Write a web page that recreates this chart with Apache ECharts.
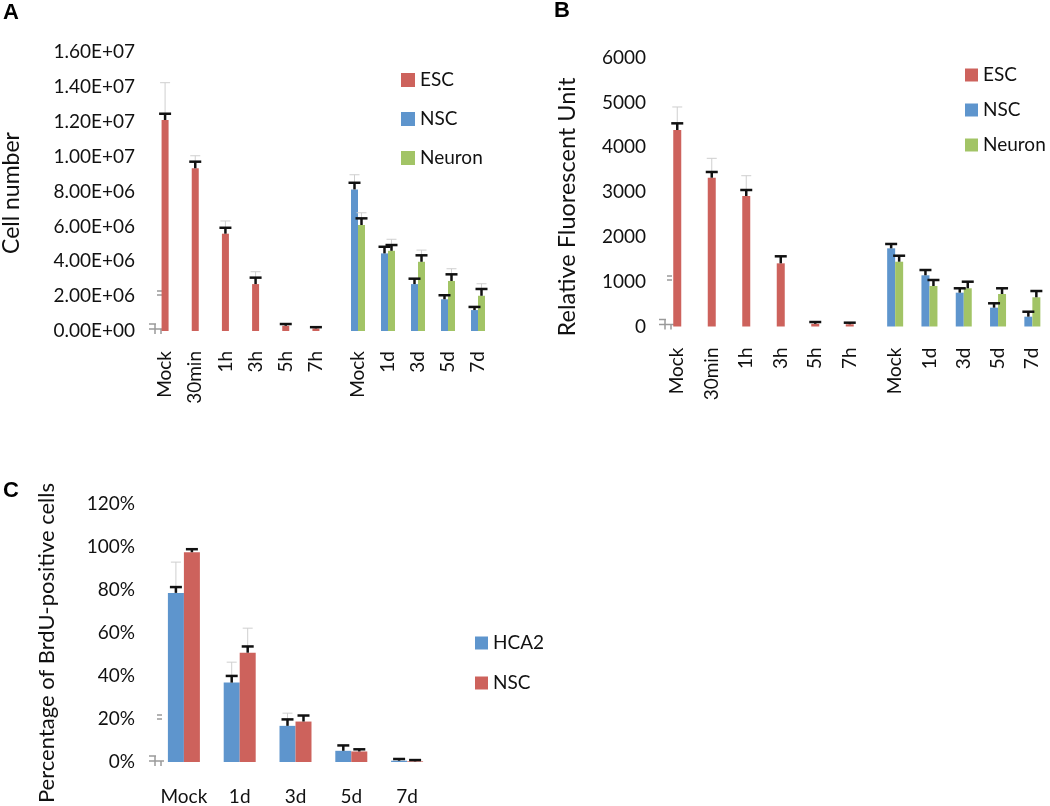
<!DOCTYPE html>
<html><head><meta charset="utf-8">
<script src="https://cdn.jsdelivr.net/npm/echarts@6/dist/echarts.min.js"></script>
<style>html,body{margin:0;padding:0;background:#fff}#c{width:1050px;height:806px}</style>
</head><body><div id="c"></div>
<script>
// ---------- DATA ----------
// Panel A (Cell number)
const catsA1 = ['Mock','30min','1h','3h','5h','7h'];
const catsA2 = ['Mock','1d','3d','5d','7d'];
const aESC       = [12.1e6, 9.33e6, 5.58e6, 2.69e6, 0.30e6, 0.15e6];
const aESCErr    = [0.36e6, 0.38e6, 0.34e6, 0.37e6, 0.10e6, 0.07e6];
const aESCErr2   = [2.14e6, 0.72e6, 0.73e6, 0.71e6, null, null];
const aNSC       = [8.12e6, 4.45e6, 2.69e6, 1.82e6, 1.20e6];
const aNSCErr    = [0.38e6, 0.38e6, 0.31e6, 0.23e6, 0.18e6];
const aNSCErr2   = [0.84e6, null, null, null, null];
const aNeuron    = [6.08e6, 4.60e6, 3.97e6, 2.87e6, 2.02e6];
const aNeuronErr = [0.38e6, 0.33e6, 0.37e6, 0.38e6, 0.39e6];
const aNeuronErr2= [0.70e6, 0.66e6, 0.67e6, 0.70e6, 0.69e6];
// Panel B (Relative Fluorescent Unit)
const catsB1 = ['Mock','30min','1h','3h','5h','7h'];
const catsB2 = ['Mock','1d','3d','5d','7d'];
const bESC       = [4386, 3321, 2913, 1410, 60, 50];
const bESCErr    = [149, 128, 134, 157, 40, 35];
const bESCErr2   = [514, 433, 453, null, null, null];
const bNSC       = [1745, 1143, 755, 420, 219];
const bNSCErr    = [97, 118, 98, 98, 111];
const bNeuron    = [1446, 904, 853, 725, 652];
const bNeuronErr = [134, 134, 147, 128, 140];
// Panel C (Percentage of BrdU-positive cells)
const catsC = ['Mock','1d','3d','5d','7d'];
const cHCA2      = [78.6, 36.9, 16.8, 5.2, 0.6];
const cHCA2Err   = [2.7, 3.1, 3.0, 2.5, 0.8];
const cHCA2Err2  = [14.3, 9.5, 5.9, null, null];
const cNSC       = [97.5, 50.8, 18.8, 4.9, 0.3];
const cNSCErr    = [1.4, 2.9, 2.8, 1.0, 0.6];
const cNSCErr2   = [null, 11.4, null, null, null];
// tick settings
const yA = {min: 0, max: 1.6e7, interval: 2e6};
const yB = {min: 0, max: 6000, interval: 1000};
const yC = {min: 0, max: 120, interval: 20};

// ---------- STYLE ----------
const RED = '#CD625C', BLUE = '#5E95CD', GREEN = '#A2C466';
const FONT = 'Lato';
const TXT = '#111';
const TICK = 19;

function sci(v){
  if (v === 0) return '0.00E+00';
  const e = Math.floor(Math.log10(v) + 1e-9);
  const m = v / Math.pow(10, e);
  return m.toFixed(2) + 'E+' + String(e).padStart(2, '0');
}

function errSeries(xIdx, vals, errs, offset, color, lw, capW, z){
  const data = [];
  vals.forEach((v, i) => { if (errs[i] != null && v != null) data.push([i, v, errs[i]]); });
  return {
    type: 'custom', xAxisIndex: xIdx, yAxisIndex: xIdx, z: z, silent: true,
    data: data,
    renderItem: function(params, api){
      const i = api.value(0), v = api.value(1), e = api.value(2);
      const p0 = api.coord([i, v]);
      const p1 = api.coord([i, v + e]);
      const x = p0[0] + offset;
      return {
        type: 'group',
        children: [
          {type: 'line', shape: {x1: x, y1: p0[1], x2: x, y2: p1[1]}, style: {stroke: color, lineWidth: lw}},
          {type: 'line', shape: {x1: x - capW / 2, y1: p1[1], x2: x + capW / 2, y2: p1[1]}, style: {stroke: color, lineWidth: lw}}
        ]
      };
    }
  };
}

const BLACK = '#111', GRAY = '#cfcfcf', MARK = '#9a9a9a';

// small gray axis-break marks near the y axes (decoration)
function breakMarks(xs, yz, xe, ye){
  const L = (x1, y1, x2, y2) => ({type: 'line', shape: {x1, y1, x2, y2}, style: {stroke: MARK, lineWidth: 1.5}, silent: true});
  return {
    type: 'group', silent: true,
    children: [
      L(xs, yz - 7, xs + 7, yz - 7), L(xs + 6, yz - 7, xs + 6, yz + 3),
      L(xs, yz - 2, xs + 15, yz - 2), L(xs + 12, yz - 2, xs + 12, yz + 3),
      L(xe, ye - 2, xe + 5, ye - 2), L(xe, ye + 2, xe + 5, ye + 2)
    ]
  };
}

function catAxis(gi, cats, rotate, margin){
  return {
    type: 'category', gridIndex: gi, data: cats,
    axisLine: {show: false}, axisTick: {show: false},
    axisLabel: {rotate: rotate, margin: margin, fontFamily: FONT, fontSize: TICK, color: TXT, interval: 0}
  };
}
function valAxis(gi, cfg, show, fmt, margin){
  return {
    type: 'value', gridIndex: gi, min: cfg.min, max: cfg.max, interval: cfg.interval,
    show: show, splitLine: {show: false}, axisLine: {show: false}, axisTick: {show: false},
    axisLabel: {formatter: fmt, margin: margin, fontFamily: FONT, fontSize: TICK, color: TXT}
  };
}

const wA = 7, wB = 8, wC = 16;
const legendText = {fontFamily: FONT, fontSize: 19, color: TXT, lineHeight: 20};

const option = {
  backgroundColor: '#fff',
  animation: false,
  title: [
    {text: 'A', left: 3, top: 2, padding: 0, textStyle: {fontFamily: 'Liberation Sans', fontWeight: 'bold', fontSize: 22, color: '#000'}},
    {text: 'B', left: 554, top: 0, padding: 0, textStyle: {fontFamily: 'Liberation Sans', fontWeight: 'bold', fontSize: 22, color: '#000'}},
    {text: 'C', left: 3, top: 480, padding: 0, textStyle: {fontFamily: 'Liberation Sans', fontWeight: 'bold', fontSize: 22, color: '#000'}}
  ],
  legend: [
    {orient: 'vertical', left: 396, top: 65, itemWidth: 14, itemHeight: 14, itemGap: 19, icon: 'rect',
     data: [{name: 'ESC', itemStyle: {color: RED}}, {name: 'NSC', itemStyle: {color: BLUE}}, {name: 'Neuron', itemStyle: {color: GREEN}}],
     textStyle: legendText, selectedMode: false},
    {orient: 'vertical', left: 960, top: 60, itemWidth: 13, itemHeight: 13, itemGap: 15, icon: 'rect',
     data: [{name: 'ESC', itemStyle: {color: RED}}, {name: 'NSC', itemStyle: {color: BLUE}}, {name: 'Neuron', itemStyle: {color: GREEN}}],
     textStyle: legendText, selectedMode: false},
    {orient: 'vertical', left: 470, top: 628, itemWidth: 13, itemHeight: 13, itemGap: 20, icon: 'rect',
     data: [{name: 'HCA2', itemStyle: {color: BLUE}}, {name: 'NSC', itemStyle: {color: RED}}],
     textStyle: legendText, selectedMode: false}
  ],
  graphic: [
    {type: 'text', x: 12, y: 193, rotation: Math.PI / 2, style: {text: 'Cell number', fontFamily: FONT, fontSize: 23, fill: TXT, align: 'center', verticalAlign: 'middle'}},
    {type: 'text', x: 567, y: 207, rotation: Math.PI / 2, style: {text: 'Relative Fluorescent Unit', fontFamily: FONT, fontSize: 23.5, fill: TXT, align: 'center', verticalAlign: 'middle'}},
    {type: 'text', x: 47, y: 643, rotation: Math.PI / 2, style: {text: 'Percentage of BrdU-positive cells', fontFamily: FONT, fontSize: 22, fill: TXT, align: 'center', verticalAlign: 'middle'}},
    breakMarks(149, 331, 157, 293),
    breakMarks(659, 326.5, 667, 278),
    breakMarks(149, 763, 157, 717)
  ],
  grid: [
    {left: 150, top: 52, width: 181, height: 279},
    {left: 343, top: 52, width: 150, height: 279},
    {left: 660, top: 57.7, width: 207, height: 268.8},
    {left: 878, top: 57.7, width: 171.5, height: 268.8},
    {left: 156, top: 503.8, width: 279, height: 259.2}
  ],
  xAxis: [
    catAxis(0, catsA1, 90, 20),
    catAxis(1, catsA2, 90, 20),
    catAxis(2, catsB1, 90, 21),
    catAxis(3, catsB2, 90, 21),
    catAxis(4, catsC, 0, 25)
  ],
  yAxis: [
    valAxis(0, yA, true, sci, 15),
    valAxis(1, yA, false, sci, 15),
    valAxis(2, yB, true, v => String(v), 14),
    valAxis(3, yB, false, v => String(v), 14),
    valAxis(4, yC, true, v => v + '%', 21)
  ],
  series: [
    // Panel A
    {name: 'ESC', type: 'bar', xAxisIndex: 0, yAxisIndex: 0, data: aESC, barWidth: wA, itemStyle: {color: RED}},
    {name: 'NSC', type: 'bar', xAxisIndex: 1, yAxisIndex: 1, data: aNSC, barWidth: wA, barGap: '0%', itemStyle: {color: BLUE}},
    {name: 'Neuron', type: 'bar', xAxisIndex: 1, yAxisIndex: 1, data: aNeuron, barWidth: wA, barGap: '0%', itemStyle: {color: GREEN}},
    errSeries(0, aESC, aESCErr2, 0, GRAY, 1, 10, 3),
    errSeries(1, aNSC, aNSCErr2, -wA / 2, GRAY, 1, 10, 3),
    errSeries(1, aNeuron, aNeuronErr2, wA / 2, GRAY, 1, 10, 3),
    errSeries(0, aESC, aESCErr, 0, BLACK, 2.5, 12, 4),
    errSeries(1, aNSC, aNSCErr, -wA / 2, BLACK, 2.5, 12, 4),
    errSeries(1, aNeuron, aNeuronErr, wA / 2, BLACK, 2.5, 12, 4),
    // Panel B
    {name: 'ESC', type: 'bar', xAxisIndex: 2, yAxisIndex: 2, data: bESC, barWidth: wB, itemStyle: {color: RED}},
    {name: 'NSC', type: 'bar', xAxisIndex: 3, yAxisIndex: 3, data: bNSC, barWidth: wB, barGap: '0%', itemStyle: {color: BLUE}},
    {name: 'Neuron', type: 'bar', xAxisIndex: 3, yAxisIndex: 3, data: bNeuron, barWidth: wB, barGap: '0%', itemStyle: {color: GREEN}},
    errSeries(2, bESC, bESCErr2, 0, GRAY, 1, 10, 3),
    errSeries(2, bESC, bESCErr, 0, BLACK, 2.5, 12, 4),
    errSeries(3, bNSC, bNSCErr, -wB / 2, BLACK, 2.5, 12, 4),
    errSeries(3, bNeuron, bNeuronErr, wB / 2, BLACK, 2.5, 12, 4),
    // Panel C
    {name: 'HCA2', type: 'bar', xAxisIndex: 4, yAxisIndex: 4, data: cHCA2, barWidth: wC, barGap: '0%', itemStyle: {color: BLUE}},
    {name: 'NSC', type: 'bar', xAxisIndex: 4, yAxisIndex: 4, data: cNSC, barWidth: wC, barGap: '0%', itemStyle: {color: RED}},
    errSeries(4, cHCA2, cHCA2Err2, -wC / 2, GRAY, 1, 10, 3),
    errSeries(4, cNSC, cNSCErr2, wC / 2, GRAY, 1, 10, 3),
    errSeries(4, cHCA2, cHCA2Err, -wC / 2, BLACK, 2.5, 12, 4),
    errSeries(4, cNSC, cNSCErr, wC / 2, BLACK, 2.5, 12, 4)
  ]
};

const chart = echarts.init(document.getElementById('c'), null, {renderer: 'canvas'});
chart.setOption(option);
</script></body></html>
